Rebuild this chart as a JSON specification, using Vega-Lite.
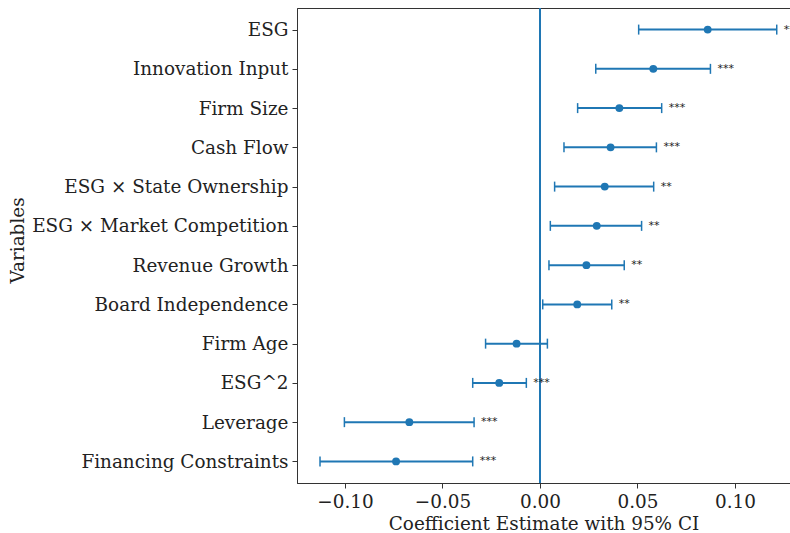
{
  "$schema": "https://vega.github.io/schema/vega-lite/v6.json",
  "width": 493,
  "height": 475,
  "autosize": {"type": "none"},
  "padding": {"left": 297, "top": 8, "right": 0, "bottom": 50},
  "background": "white",
  "config": {
    "view": {"stroke": "#333", "strokeWidth": 1},
    "axis": {
      "domainColor": "#333",
      "tickColor": "#333",
      "tickSize": 5,
      "labelFont": "DejaVu Serif",
      "labelFontSize": 18.4,
      "labelColor": "#222",
      "labelLimit": 320,
      "titleFont": "DejaVu Serif",
      "titleFontSize": 18.4,
      "titleFontWeight": "normal",
      "titleColor": "#222",
      "grid": false
    }
  },
  "data": {
    "values": [
      {"var": "ESG", "coef": 0.086, "low": 0.0506, "high": 0.1214, "sig": "***"},
      {"var": "Innovation Input", "coef": 0.0581, "low": 0.0286, "high": 0.0874, "sig": "***"},
      {"var": "Firm Size", "coef": 0.0407, "low": 0.0193, "high": 0.0624, "sig": "***"},
      {"var": "Cash Flow", "coef": 0.0362, "low": 0.0123, "high": 0.0597, "sig": "***"},
      {"var": "ESG × State Ownership", "coef": 0.0332, "low": 0.0075, "high": 0.0583, "sig": "**"},
      {"var": "ESG × Market Competition", "coef": 0.0291, "low": 0.0053, "high": 0.0521, "sig": "**"},
      {"var": "Revenue Growth", "coef": 0.0238, "low": 0.0046, "high": 0.0432, "sig": "**"},
      {"var": "Board Independence", "coef": 0.0191, "low": 0.0014, "high": 0.0368, "sig": "**"},
      {"var": "Firm Age", "coef": -0.012, "low": -0.0279, "high": 0.0038, "sig": ""},
      {"var": "ESG^2", "coef": -0.0209, "low": -0.0345, "high": -0.007, "sig": "***"},
      {"var": "Leverage", "coef": -0.067, "low": -0.1003, "high": -0.0338, "sig": "***"},
      {"var": "Financing Constraints", "coef": -0.0738, "low": -0.1128, "high": -0.0345, "sig": "***"}
    ]
  },
  "encoding": {
    "y": {
      "field": "var",
      "type": "nominal",
      "sort": null,
      "scale": {"type": "point", "padding": 0.55},
      "axis": {
        "title": "Variables",
        "labelPadding": 4,
        "titleX": -280,
        "titleY": 232,
        "titleAngle": -90,
        "titleAlign": "center",
        "titleBaseline": "middle"
      }
    }
  },
  "layer": [
    {
      "mark": {"type": "rule", "color": "#1f77b4", "opacity": 0.6, "strokeWidth": 1.5},
      "encoding": {"x": {"datum": 0, "type": "quantitative"}, "y": null}
    },
    {
      "mark": {"type": "rule", "color": "#1f77b4", "strokeWidth": 2},
      "encoding": {
        "x": {
          "field": "low",
          "type": "quantitative",
          "scale": {"domain": [-0.1246, 0.1282], "nice": false, "zero": false},
          "axis": {
            "title": "Coefficient Estimate with 95% CI",
            "values": [-0.1, -0.05, 0, 0.05, 0.1],
            "format": ".2f",
            "labelPadding": 4,
            "titlePadding": 4
          }
        },
        "x2": {"field": "high"}
      }
    },
    {
      "mark": {"type": "tick", "color": "#1f77b4", "size": 10, "thickness": 1.5, "opacity": 1},
      "encoding": {"x": {"field": "low", "type": "quantitative"}}
    },
    {
      "mark": {"type": "tick", "color": "#1f77b4", "size": 10, "thickness": 1.5, "opacity": 1},
      "encoding": {"x": {"field": "high", "type": "quantitative"}}
    },
    {
      "mark": {"type": "point", "filled": true, "color": "#1f77b4", "size": 62, "opacity": 1},
      "encoding": {"x": {"field": "coef", "type": "quantitative"}}
    },
    {
      "mark": {"type": "text", "align": "left", "baseline": "middle", "dx": 7, "dy": 0, "font": "DejaVu Sans", "fontSize": 11, "color": "#222"},
      "encoding": {"x": {"field": "high", "type": "quantitative"}, "text": {"field": "sig"}}
    }
  ]
}
